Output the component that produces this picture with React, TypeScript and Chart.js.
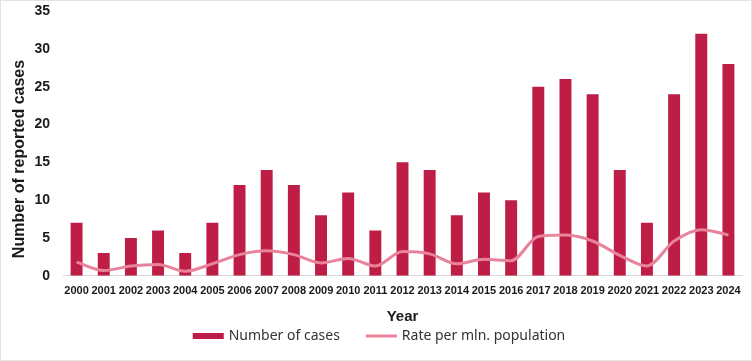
import React, { useEffect, useRef } from "react";
import { Chart, registerables } from "chart.js";

Chart.register(...registerables);

const years = ["2000","2001","2002","2003","2004","2005","2006","2007","2008","2009","2010","2011","2012","2013","2014","2015","2016","2017","2018","2019","2020","2021","2022","2023","2024"];
const cases = [7,3,5,6,3,7,12,14,12,8,11,6,15,14,8,11,10,25,26,24,14,7,24,32,28];
const ratePerMln = [1.8,0.7,1.3,1.5,0.6,1.6,2.8,3.3,2.8,1.7,2.3,1.3,3.2,2.9,1.6,2.2,2.0,5.2,5.4,4.6,2.7,1.3,4.6,6.1,5.4];
const yTitle = "Number of reported cases";

const BAR = "#BE1E45";
const LINE = "#E8839B";
const LEGEND_FONT = "14px 'Noto Sans', sans-serif";

const extras = {
  id: "extras",
  afterDraw(chart: any) {
    const ctx = chart.ctx;
    const ds = chart.data.datasets;
    ctx.save();
    // y-axis title
    ctx.font = "bold 16px 'Liberation Sans', Arial, sans-serif";
    ctx.fillStyle = "#1a1a1a";
    ctx.textAlign = "center";
    ctx.textBaseline = "middle";
    ctx.translate(19, 158);
    ctx.rotate(-Math.PI / 2);
    ctx.fillText(yTitle, 0, 0);
    ctx.restore();

    // legend
    ctx.save();
    const swatchW = 31;
    const textGap = 5;
    const itemGap = 26;
    ctx.font = LEGEND_FONT;
    const widths = ds.map((d: any) => swatchW + textGap + ctx.measureText(d.label).width);
    const total = widths.reduce((a: number, b: number) => a + b, 0) + itemGap * (ds.length - 1);
    let x = chart.width / 2 + 3 - total / 2;
    const y = chart.height - 24;
    ds.forEach((d: any, i: number) => {
      if (d.type === "line") {
        ctx.strokeStyle = d.borderColor;
        ctx.lineWidth = 3;
        ctx.beginPath();
        ctx.moveTo(x, y);
        ctx.lineTo(x + swatchW, y);
        ctx.stroke();
      } else {
        ctx.fillStyle = d.backgroundColor;
        ctx.fillRect(x, y - 3, swatchW, 6);
      }
      ctx.fillStyle = "#333333";
      ctx.textBaseline = "middle";
      ctx.textAlign = "left";
      ctx.fillText(d.label, x + swatchW + textGap, y);
      x += widths[i] + itemGap;
    });
    ctx.restore();
  },
};

export default function App() {
  const ref = useRef<HTMLCanvasElement>(null);
  useEffect(() => {
    if (!ref.current) return;
    const chart = new Chart(ref.current, {
      type: "bar",
      data: {
        labels: years,
        datasets: [
          {
            type: "bar",
            label: "Number of cases",
            data: cases,
            backgroundColor: BAR,
            borderWidth: 0,
            barPercentage: 0.88,
            categoryPercentage: 0.5,
            order: 2,
          },
          {
            type: "line",
            label: "Rate per mln. population",
            data: ratePerMln,
            borderColor: LINE,
            backgroundColor: LINE,
            borderWidth: 3,
            pointRadius: 0,
            tension: 0.4,
            cubicInterpolationMode: "monotone",
            order: 1,
          },
        ],
      },
      plugins: [extras],
      options: {
        animation: false,
        responsive: false,
        maintainAspectRatio: false,
        layout: { padding: { left: 9, right: 9, top: 0, bottom: 34 } },
        plugins: {
          tooltip: { enabled: false },
          legend: { display: false },
        },
        scales: {
          x: {
            grid: { display: false, drawTicks: false },
            border: { display: true, color: "#D9D9D9", width: 1 },
            ticks: {
              color: "#1a1a1a",
              padding: 9,
              maxRotation: 0,
              autoSkip: false,
              font: { family: "'Liberation Sans', Arial, sans-serif", size: 11, weight: "bold" },
            },
            title: {
              display: true,
              text: "Year",
              color: "#1a1a1a",
              padding: { top: 1, bottom: 0 },
              font: { family: "'Liberation Sans', Arial, sans-serif", size: 15, weight: "bold" },
            },
          },
          y: {
            min: 0,
            max: 35,
            grid: { display: false, drawTicks: false },
            border: { display: false },
            ticks: {
              stepSize: 5,
              color: "#1a1a1a",
              padding: 13,
              font: { family: "'Liberation Sans', Arial, sans-serif", size: 14, weight: "bold" },
            },
            title: { display: false },
            afterFit: (scale: any) => {
              scale.width = 53;
              scale.paddingTop = 10;
            },
          },
        },
      },
    });
    return () => chart.destroy();
  }, []);
  return (
    <div
      style={{
        position: "absolute",
        left: 0,
        top: 0,
        width: 752,
        height: 361,
        background: "#fff",
        boxSizing: "border-box",
        border: "1px solid #E3E3E3",
      }}
    >
      <canvas ref={ref} width={750} height={359} style={{ display: "block" }} />
    </div>
  );
}
